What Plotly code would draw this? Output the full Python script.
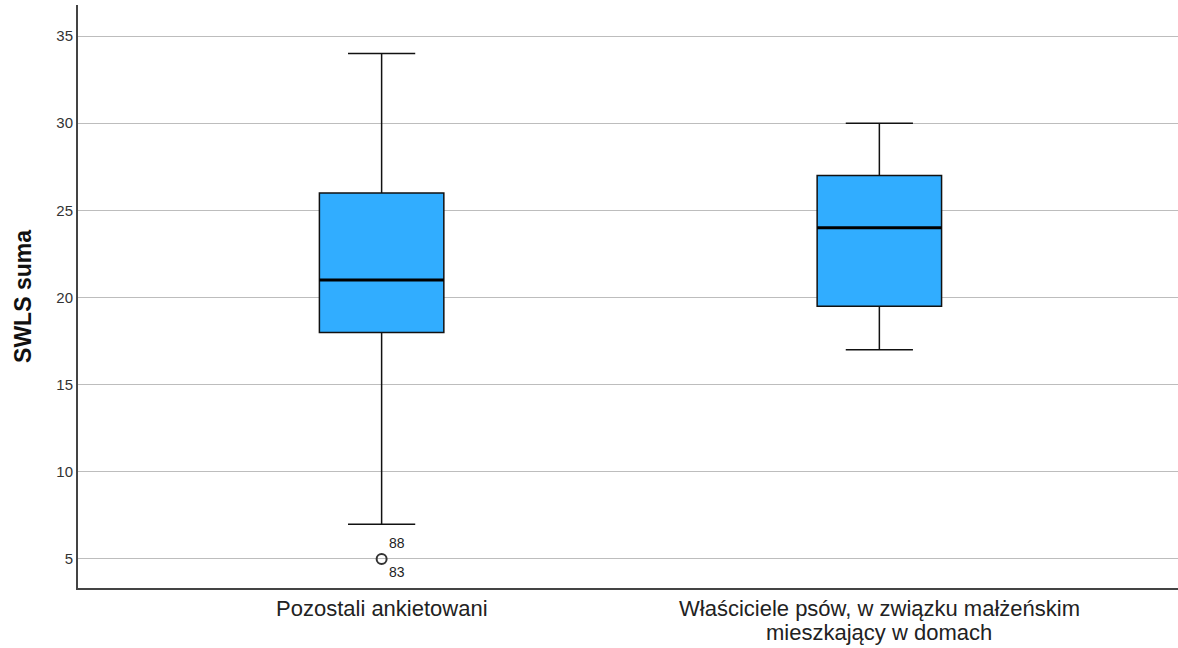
import plotly.graph_objects as go

categories = ["Pozostali ankietowani",
              "Właściciele psów, w związku małżeńskim<br>mieszkający w domach"]
positions = [0, 1]
lower_whisker = [7, 17]
q1_vals = [18, 19.5]
median_vals = [21, 24]
q3_vals = [26, 27]
upper_whisker = [34, 30]
outlier_x = [0]
outlier_y = [5]
outlier_labels = ["88", "83"]
y_ticks = [5, 10, 15, 20, 25, 30, 35]

BOX_W = 0.25
FILL = "#31ADFF"
FONT = "Liberation Sans, Arial, sans-serif"

fig = go.Figure()
for i, p in enumerate(positions):
    fig.add_trace(go.Box(
        x=[p], q1=[q1_vals[i]], median=[median_vals[i]], q3=[q3_vals[i]],
        lowerfence=[lower_whisker[i]], upperfence=[upper_whisker[i]],
        width=BOX_W, whiskerwidth=0.54, fillcolor=FILL,
        line=dict(color="#111111", width=1.5), boxpoints=False,
        hoverinfo="skip", showlegend=False))
    fig.add_trace(go.Scatter(
        x=[p - BOX_W / 2, p + BOX_W / 2], y=[median_vals[i], median_vals[i]],
        mode="lines", line=dict(color="#000000", width=3),
        hoverinfo="skip", showlegend=False))

fig.add_trace(go.Scatter(
    x=outlier_x, y=outlier_y, mode="markers",
    marker=dict(symbol="circle-open", size=10, color="#333333", line=dict(width=2)),
    hoverinfo="skip", showlegend=False))

fig.add_annotation(x=outlier_x[0], y=outlier_y[0], text=outlier_labels[0],
                   showarrow=False, xanchor="left", yanchor="bottom",
                   xshift=5, yshift=6, font=dict(size=14, color="#222222", family=FONT))
fig.add_annotation(x=outlier_x[0], y=outlier_y[0], text=outlier_labels[1],
                   showarrow=False, xanchor="left", yanchor="top",
                   xshift=5, yshift=-3, font=dict(size=14, color="#222222", family=FONT))

# category labels (tick labels) with tighter line spacing
for p, cat in zip(positions, categories):
    for j, line in enumerate(cat.split("<br>")):
        fig.add_annotation(x=p, y=0, xref="x", yref="paper", text=line,
                           showarrow=False, xanchor="center", yanchor="top",
                           yshift=-6 - j * 24,
                           font=dict(size=22, color="#222222", family=FONT))

fig.update_layout(
    width=1178, height=648,
    margin=dict(l=78, r=0, t=5, b=60),
    paper_bgcolor="white", plot_bgcolor="white",
    font=dict(family=FONT, color="#222222"),
    xaxis=dict(range=[-0.61, 1.6], tickvals=positions, showticklabels=False,
               showgrid=False, zeroline=False, showline=True, linecolor="#444444",
               linewidth=2, ticks=""),
    yaxis=dict(range=[3.336, 36.78], tickvals=y_ticks, showgrid=True,
               gridcolor="#BDBDBD", gridwidth=1, zeroline=False, showline=True,
               linecolor="#444444", linewidth=2, ticks="",
               tickfont=dict(size=15, color="#333333"),
               title=dict(text="<b>SWLS suma</b>", font=dict(size=23, color="#111111"),
                          standoff=18)),
)

fig.write_html("out.html")
